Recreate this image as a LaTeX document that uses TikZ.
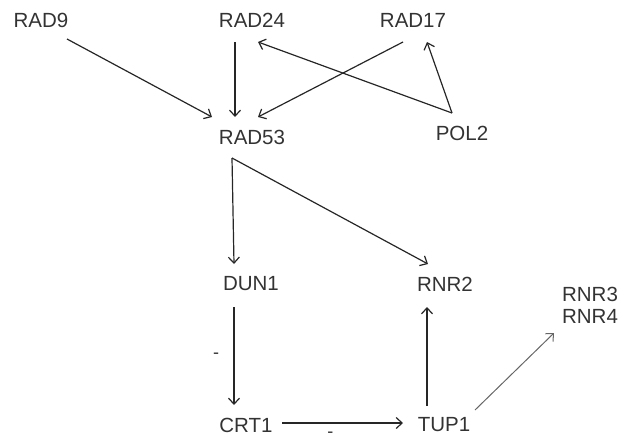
\documentclass[tikz,border=0pt]{standalone}
\usepackage{fontspec}
\setmainfont{Liberation Sans}
\usetikzlibrary{arrows.meta}
\begin{document}
\begin{tikzpicture}[x=1pt,y=-1pt,
  gene/.style={inner sep=0pt,font=\fontsize{20.5}{22}\selectfont,text=black!80},
  arr/.style={-{Straight Barb[length=6pt,width=11pt]},line width=1.2pt,draw=black!85},
  lbl/.style={inner sep=0pt,font=\fontsize{18}{20}\selectfont,text=black!80}]
\useasboundingbox (0,0) rectangle (619,442);
\node[gene] (rad9) at (41,20) {RAD9};
\node[gene] (rad24) at (252,20) {RAD24};
\node[gene] (rad17) at (413,20) {RAD17};
\node[gene] (rad53) at (252,137) {RAD53};
\node[gene] (pol2) at (462,133) {POL2};
\node[gene] (dun1) at (251,284) {DUN1};
\node[gene] (rnr2) at (445,284) {RNR2};
\node[gene] (crt1) at (246,425) {CRT1};
\node[gene] (tup1) at (444,425) {TUP1};
\node[gene,align=left] (rnr34) at (590,305) {RNR3\\RNR4};
\draw[arr] ([shift={(26,19)}]rad9.center) -- ([shift={(-40,-20)}]rad53.center);
\draw[arr] ([shift={(-17,22)}]rad24.center) -- ([shift={(-17,-20)}]rad53.center);
\draw[arr] ([shift={(-10,22)}]rad17.center) -- ([shift={(6,-20)}]rad53.center);
\draw[arr] ([shift={(-10,-20)}]pol2.center) -- ([shift={(6,22)}]rad24.center);
\draw[arr] ([shift={(-10,-20)}]pol2.center) -- ([shift={(14,22)}]rad17.center);
\draw[arr] ([shift={(-20,21)}]rad53.center) -- ([shift={(-17,-20)}]dun1.center);
\draw[arr] ([shift={(-20,21)}]rad53.center) -- ([shift={(-17,-20)}]rnr2.center);
\draw[arr] ([shift={(-17,23)}]dun1.center) -- node[lbl,pos=0.5,xshift=-18pt] (m1) {-} ([shift={(-12,-20)}]crt1.center);
\draw[arr] ([shift={(36,-2)}]crt1.center) -- node[lbl,pos=0.4,yshift=-12pt] (m2) {-} ([shift={(-41,-2)}]tup1.center);
\draw[arr] ([shift={(-17,-19)}]tup1.center) -- ([shift={(-18,23)}]rnr2.center);
\draw[arr,draw=black!60,line width=1pt] ([shift={(31,-15)}]tup1.center) -- ([shift={(-36,28)}]rnr34.center);
\end{tikzpicture}
\end{document}
